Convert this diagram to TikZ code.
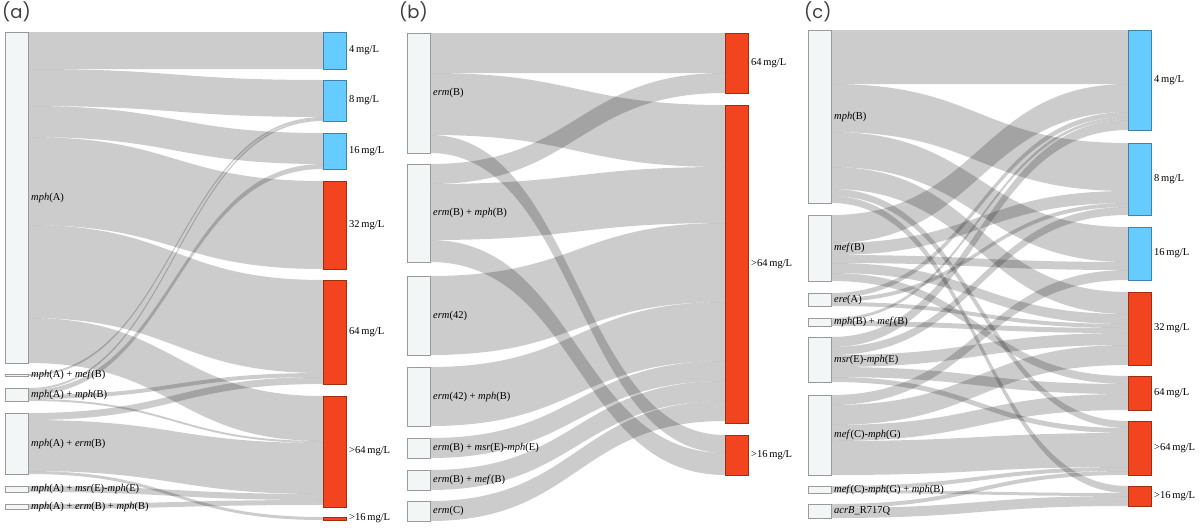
\documentclass[tikz,border=0pt]{standalone}
\usepackage{fontspec}
\setmainfont{Liberation Serif}
\newfontfamily\panelfont{Poppins}
\usepackage{xcolor}
\usepackage{tikz}
\usetikzlibrary{calc}
\usetikzlibrary{positioning}
\definecolor{srcfill}{HTML}{F3F6F7}
\definecolor{srcline}{HTML}{9A9A9A}
\definecolor{lowblue}{HTML}{66CCFF}
\definecolor{lowline}{HTML}{3F84A8}
\definecolor{highred}{HTML}{F2441E}
\definecolor{highline}{HTML}{9C2E12}
\pgfdeclarelayer{bg}
\pgfsetlayers{bg,main}
\tikzset{
  tall/.style={minimum height=#1pt},
  srcbox/.style={draw=srcline, fill=srcfill, line width=0.5pt, minimum width=23pt, inner sep=0pt, outer sep=0pt, anchor=north west},
  lowbox/.style={srcbox, draw=lowline, fill=lowblue},
  highbox/.style={srcbox, draw=highline, fill=highred},
  flowband/.style={fill=black, fill opacity=0.2},
  genelbl/.style={font=\fontsize{10.5}{12}\selectfont, inner sep=1pt},
  paneltag/.style={font=\panelfont\fontsize{18}{20}\selectfont, text=black!75, inner sep=1pt, anchor=north west}
}
% band from source node to target node: source, offset, target, offset, width
\newcommand{\flow}[5]{%
  \begin{pgfonlayer}{bg}
    \path (#1.north east) ++(0,#2) coordinate (s1) ++(0,#5) coordinate (s2)
          (#3.north west) ++(0,#4) coordinate (t1) ++(0,#5) coordinate (t2)
          ($(s1)!0.5!(t1)$) coordinate (m);
    \fill[flowband] (s1) .. controls (m |- s1) and (m |- t1) .. (t1) -- (t2)
      .. controls (m |- t2) and (m |- s2) .. (s2) -- cycle;
  \end{pgfonlayer}}

\begin{document}
\begin{tikzpicture}[x=1pt,y=-1pt]
\useasboundingbox (0,0) rectangle (1200,528);

\node[paneltag] (tagA) at (1,0) {(a)};
\node[paneltag] (tagB) at (398,0) {(b)};
\node[paneltag] (tagC) at (803,0) {(c)};

% panel (a)
\node[srcbox, tall=331] (mphA) at (5,32) {};
\node[srcbox, tall=2] (mphAmef) at (5,374) {};
\node[srcbox, tall=13] (mphAmph) at (5,388) {};
\node[srcbox, tall=61] (mphAerm) at (5,413) {};
\node[srcbox, tall=6] (mphAmsr) at (5,486) {};
\node[srcbox, tall=5] (mphAermmph) at (5,504) {};
\node[genelbl, right=2pt of mphA] (mphA-t) {\textit{mph}(A)};
\node[genelbl, right=2pt of mphAmef] (mphAmef-t) {\textit{mph}(A) + \textit{mef}(B)};
\node[genelbl, right=2pt of mphAmph] (mphAmph-t) {\textit{mph}(A) + \textit{mph}(B)};
\node[genelbl, right=2pt of mphAerm] (mphAerm-t) {\textit{mph}(A) + \textit{erm}(B)};
\node[genelbl, right=2pt of mphAmsr] (mphAmsr-t) {\textit{mph}(A) + \textit{msr}(E)-\textit{mph}(E)};
\node[genelbl, right=2pt of mphAermmph] (mphAermmph-t) {\textit{mph}(A) + \textit{erm}(B) + \textit{mph}(B)};

\node[lowbox, tall=37] (a4) at (323,32) {};
\node[lowbox, tall=41] (a8) at (323,80) {};
\node[lowbox, tall=36] (a16) at (323,133) {};
\node[highbox, tall=88] (a32) at (323,181) {};
\node[highbox, tall=104] (a64) at (323,280) {};
\node[highbox, tall=111] (aG64) at (323,396) {};
\node[highbox, tall=3] (aG16) at (323,517) {};
\node[genelbl, right=2pt of a4] (a4-t) {4\,mg/L};
\node[genelbl, right=2pt of a8] (a8-t) {8\,mg/L};
\node[genelbl, right=2pt of a16] (a16-t) {16\,mg/L};
\node[genelbl, right=2pt of a32] (a32-t) {32\,mg/L};
\node[genelbl, right=2pt of a64] (a64-t) {64\,mg/L};
\node[genelbl, right=2pt of aG64] (aG64-t) {\textgreater64\,mg/L};
\node[genelbl, right=2pt of aG16] (aG16-t) {\textgreater16\,mg/L};

\flow{mphA}{0}{a4}{0}{37}
\flow{mphA}{37}{a8}{0}{37}
\flow{mphA}{74}{a16}{0}{31}
\flow{mphA}{105}{a32}{0}{88}
\flow{mphA}{193}{a64}{0}{93}
\flow{mphA}{286}{aG64}{0}{45}
\flow{mphAmef}{0}{a8}{37}{2}
\flow{mphAmph}{0}{a8}{39}{2}
\flow{mphAmph}{2}{a16}{31}{5}
\flow{mphAmph}{7}{a64}{93}{4}
\flow{mphAmph}{11}{aG64}{45}{2}
\flow{mphAerm}{0}{a64}{97}{7}
\flow{mphAerm}{7}{aG64}{47}{51}
\flow{mphAerm}{58}{aG16}{0}{3}
\flow{mphAmsr}{0}{aG64}{98}{6}
\flow{mphAermmph}{0}{aG64}{104}{5}

% panel (b)
\node[srcbox, tall=120] (bermB) at (407,33) {};
\node[srcbox, tall=98] (bermBmph) at (407,164) {};
\node[srcbox, tall=79] (berm42) at (407,276) {};
\node[srcbox, tall=59] (berm42mph) at (407,367) {};
\node[srcbox, tall=20] (bermBmsr) at (407,438) {};
\node[srcbox, tall=20] (bermBmef) at (407,470) {};
\node[srcbox, tall=20] (bermC) at (407,501) {};
\node[genelbl, right=2pt of bermB] (bermB-t) {\textit{erm}(B)};
\node[genelbl, right=2pt of bermBmph] (bermBmph-t) {\textit{erm}(B) + \textit{mph}(B)};
\node[genelbl, right=2pt of berm42] (berm42-t) {\textit{erm}(42)};
\node[genelbl, right=2pt of berm42mph] (berm42mph-t) {\textit{erm}(42) + \textit{mph}(B)};
\node[genelbl, right=2pt of bermBmsr] (bermBmsr-t) {\textit{erm}(B) + \textit{msr}(E)-\textit{mph}(E)};
\node[genelbl, right=2pt of bermBmef] (bermBmef-t) {\textit{erm}(B) + \textit{mef}(B)};
\node[genelbl, right=2pt of bermC] (bermC-t) {\textit{erm}(C)};

\node[highbox, tall=60] (b64) at (725,33) {};
\node[highbox, tall=318] (bG64) at (725,105) {};
\node[highbox, tall=40] (bG16) at (725,435) {};
\node[genelbl, right=2pt of b64] (b64-t) {64\,mg/L};
\node[genelbl, right=2pt of bG64] (bG64-t) {\textgreater64\,mg/L};
\node[genelbl, right=2pt of bG16] (bG16-t) {\textgreater16\,mg/L};

\flow{bermB}{0}{b64}{0}{40}
\flow{bermB}{40}{bG64}{0}{62}
\flow{bermB}{102}{bG16}{0}{18}
\flow{bermBmph}{0}{b64}{40}{20}
\flow{bermBmph}{20}{bG64}{62}{56}
\flow{bermBmph}{76}{bG16}{18}{22}
\flow{berm42}{0}{bG64}{118}{79}
\flow{berm42mph}{0}{bG64}{197}{59}
\flow{bermBmsr}{0}{bG64}{256}{20}
\flow{bermBmef}{0}{bG64}{276}{20}
\flow{bermC}{0}{bG64}{296}{20}

% panel (c)
\node[srcbox, tall=173] (cmphB) at (808,30) {};
\node[srcbox, tall=66] (cmefB) at (808,215) {};
\node[srcbox, tall=13] (cereA) at (808,293) {};
\node[srcbox, tall=8] (cmphBmef) at (808,318) {};
\node[srcbox, tall=45] (cmsr) at (808,337) {};
\node[srcbox, tall=80] (cmefC) at (808,395) {};
\node[srcbox, tall=7] (cmefCmph) at (808,486) {};
\node[srcbox, tall=14] (cacrB) at (808,504) {};
\node[genelbl, right=2pt of cmphB] (cmphB-t) {\textit{mph}(B)};
\node[genelbl, right=2pt of cmefB] (cmefB-t) {\textit{mef}(B)};
\node[genelbl, right=2pt of cereA] (cereA-t) {\textit{ere}(A)};
\node[genelbl, right=2pt of cmphBmef] (cmphBmef-t) {\textit{mph}(B) + \textit{mef}(B)};
\node[genelbl, right=2pt of cmsr] (cmsr-t) {\textit{msr}(E)-\textit{mph}(E)};
\node[genelbl, right=2pt of cmefC] (cmefC-t) {\textit{mef}(C)-\textit{mph}(G)};
\node[genelbl, right=2pt of cmefCmph] (cmefCmph-t) {\textit{mef}(C)-\textit{mph}(G) + \textit{mph}(B)};
\node[genelbl, right=2pt of cacrB] (cacrB-t) {\textit{acrB}\_R717Q};

\node[lowbox, tall=100] (c4) at (1128,30) {};
\node[lowbox, tall=72] (c8) at (1128,143) {};
\node[lowbox, tall=53] (c16) at (1128,227) {};
\node[highbox, tall=73] (c32) at (1128,292) {};
\node[highbox, tall=34] (c64) at (1128,376) {};
\node[highbox, tall=54] (cG64) at (1128,421) {};
\node[highbox, tall=20] (cG16) at (1128,486) {};
\node[genelbl, right=2pt of c4] (c4-t) {4\,mg/L};
\node[genelbl, right=2pt of c8] (c8-t) {8\,mg/L};
\node[genelbl, right=2pt of c16] (c16-t) {16\,mg/L};
\node[genelbl, right=2pt of c32] (c32-t) {32\,mg/L};
\node[genelbl, right=2pt of c64] (c64-t) {64\,mg/L};
\node[genelbl, right=2pt of cG64] (cG64-t) {\textgreater64\,mg/L};
\node[genelbl, right=2pt of cG16] (cG16-t) {\textgreater16\,mg/L};

\flow{cmphB}{0}{c4}{0}{54}
\flow{cmphB}{54}{c8}{0}{48}
\flow{cmphB}{102}{c16}{0}{35}
\flow{cmphB}{137}{c32}{0}{22}
\flow{cmphB}{159}{cG64}{0}{7}
\flow{cmphB}{166}{cG16}{0}{7}
\flow{cmefB}{0}{c4}{54}{28}
\flow{cmefB}{28}{c8}{48}{12}
\flow{cmefB}{40}{c16}{35}{8}
\flow{cmefB}{48}{c32}{22}{10}
\flow{cmefB}{58}{c64}{0}{8}
\flow{cereA}{0}{c4}{82}{5}
\flow{cereA}{5}{c8}{60}{4}
\flow{cereA}{9}{c32}{32}{4}
\flow{cmphBmef}{0}{c4}{87}{3}
\flow{cmphBmef}{3}{c32}{36}{5}
\flow{cmsr}{0}{c4}{90}{10}
\flow{cmsr}{10}{c8}{64}{8}
\flow{cmsr}{18}{c32}{41}{12}
\flow{cmsr}{30}{c64}{8}{10}
\flow{cmsr}{40}{cG64}{7}{5}
\flow{cmefC}{0}{c16}{43}{10}
\flow{cmefC}{10}{c32}{53}{20}
\flow{cmefC}{30}{c64}{18}{16}
\flow{cmefC}{46}{cG64}{12}{34}
\flow{cmefCmph}{0}{cG64}{46}{4}
\flow{cmefCmph}{4}{cG16}{7}{3}
\flow{cacrB}{0}{cG64}{50}{4}
\flow{cacrB}{4}{cG16}{10}{10}
\end{tikzpicture}
\end{document}
